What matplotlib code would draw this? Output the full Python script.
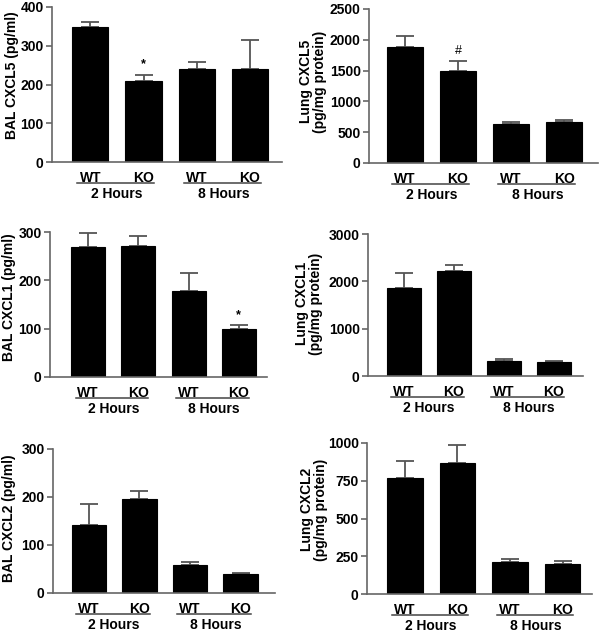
import matplotlib
matplotlib.use("Agg")
from matplotlib import pyplot as plt
from matplotlib import transforms

plt.rcParams['font.family'] = ['Liberation Sans', 'DejaVu Sans']
plt.rcParams['font.weight'] = 'bold'

groups = ["WT", "KO", "WT", "KO"]
hours = ["2 Hours", "8 Hours"]

bal_cxcl5 = [348, 210, 240, 240]
bal_cxcl5_err = [14, 15, 18, 76]
lung_cxcl5 = [1880, 1490, 630, 665]
lung_cxcl5_err = [180, 165, 35, 40]
bal_cxcl1 = [268, 271, 178, 100]
bal_cxcl1_err = [29, 21, 37, 7]
lung_cxcl1 = [1860, 2220, 320, 295]
lung_cxcl1_err = [320, 135, 40, 15]
bal_cxcl2 = [142, 195, 58, 39]
bal_cxcl2_err = [43, 17, 7, 2]
lung_cxcl2 = [765, 870, 211, 200]
lung_cxcl2_err = [115, 120, 18, 20]

W, H = 604, 635
fig = plt.figure(figsize=(W / 100, H / 100), dpi=100)


def panel(px, vals, errs, ylabel, ymax, step, label_xy, xlim, mark=None):
    x0, y0, x1, y1 = px
    ax = fig.add_axes([x0 / W, 1 - y1 / H, (x1 - x0) / W, (y1 - y0) / H])
    pos = [0, 1, 2, 3]
    ax.bar(pos, vals, width=0.68, color='black', edgecolor='black', linewidth=0.8, zorder=2)
    # upper error bars only
    ax.errorbar(pos, vals, yerr=[[0] * 4, errs], fmt='none', ecolor='#555555',
                elinewidth=1.3, capsize=6.5, capthick=1.3, zorder=1)
    ax.set_ylim(0, ymax)
    ax.set_xlim(*xlim)
    ax.set_yticks(range(0, ymax + 1, step))
    ax.set_xticks([])
    for s in ['top', 'right']:
        ax.spines[s].set_visible(False)
    for s in ['left', 'bottom']:
        ax.spines[s].set_color('#666666')
        ax.spines[s].set_linewidth(1.2)
    ax.tick_params(axis='y', length=4, width=1.2, color='#666666', labelsize=10, pad=2)
    ax.set_ylabel(ylabel, fontsize=10, fontweight='bold', linespacing=1.0)
    lx, ly = label_xy
    ax.yaxis.set_label_coords((lx - x0) / (x1 - x0), ly)

    xt = ax.get_xaxis_transform()
    for i, g in enumerate(groups):
        ax.text(i, 0, g, transform=transforms.offset_copy(xt, fig=fig, y=-16, units='dots'),
                ha='center', va='center', fontsize=10, fontweight='bold')
    line_t = transforms.offset_copy(xt, fig=fig, y=-21, units='dots')
    for k, h in enumerate(hours):
        a, b = 2 * k, 2 * k + 1
        ax.plot([a - 0.25, b + 0.2], [0, 0], color='#444444', lw=1.1,
                transform=line_t, clip_on=False)
        ax.text((a + b) / 2, 0, h, transform=transforms.offset_copy(xt, fig=fig, y=-32, units='dots'),
                ha='center', va='center', fontsize=10, fontweight='bold')
    if mark:
        i, sym = mark
        ax.annotate(sym, (i, vals[i] + errs[i]), xytext=(0, 3), textcoords='offset points',
                    ha='center', va='bottom', fontsize=9, fontweight='normal' if sym == '#' else 'bold')
    return ax


panel((52, 7, 282, 162), bal_cxcl5, bal_cxcl5_err, "BAL CXCL5 (pg/ml)", 400, 100, (19, 0.56),
      (-0.72, 3.6), mark=(1, '*'))
panel((369, 9, 598, 163), lung_cxcl5, lung_cxcl5_err, "Lung CXCL5\n(pg/mg protein)", 2500, 500, (327, 0.53),
      (-0.68, 3.64), mark=(1, '#'))
panel((50, 232, 267, 377), bal_cxcl1, bal_cxcl1_err, "BAL CXCL1 (pg/ml)", 300, 100, (16, 0.55),
      (-0.76, 3.56), mark=(3, '*'))
panel((368, 234, 583, 376), lung_cxcl1, lung_cxcl1_err, "Lung CXCL1\n(pg/mg protein)", 3000, 1000, (323, 0.51),
      (-0.72, 3.59))
panel((53, 449, 275, 593), bal_cxcl2, bal_cxcl2_err, "BAL CXCL2 (pg/ml)", 300, 100, (16, 0.52),
      (-0.71, 3.68))
panel((367, 443, 592, 594), lung_cxcl2, lung_cxcl2_err, "Lung CXCL2\n(pg/mg protein)", 1000, 250, (328, 0.56),
      (-0.72, 3.56))

fig.savefig("out.png", dpi=100)
